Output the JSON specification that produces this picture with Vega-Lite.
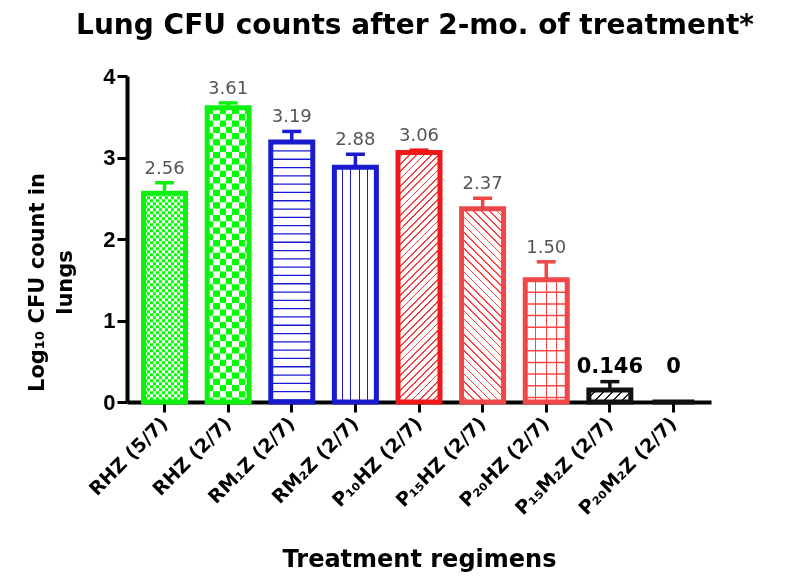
{
"$schema":"https://vega.github.io/schema/vega-lite/v6.json",
"width":584,"height":326,
"autosize":{"type":"none"},
"padding":{"left":127,"top":76,"right":79,"bottom":177},
"background":"#ffffff",
"config":{"view":{"stroke":null},"axis":{"grid":false}},
"title":{"text":"Lung CFU counts after 2-mo. of treatment*","font":"DejaVu Sans","fontSize":28,"fontWeight":"bold","color":"#000","anchor":"middle","frame":"group","offset":25,"dx":-4},
"data":{"values":[
{"code":"RHZ5","regimen":"RHZ (5/7)","grp":"RH","mean":2.56,"hi":2.69,"lab":"2.56"},
{"code":"RHZ2","regimen":"RHZ (2/7)","grp":"RH","mean":3.61,"hi":3.67,"lab":"3.61"},
{"code":"RM1Z","regimen":"RM₁Z (2/7)","grp":"RM","mean":3.19,"hi":3.32,"lab":"3.19"},
{"code":"RM2Z","regimen":"RM₂Z (2/7)","grp":"RM","mean":2.88,"hi":3.04,"lab":"2.88"},
{"code":"P10HZ","regimen":"P₁₀HZ (2/7)","grp":"P10","mean":3.06,"hi":3.09,"lab":"3.06"},
{"code":"P15HZ","regimen":"P₁₅HZ (2/7)","grp":"P","mean":2.37,"hi":2.50,"lab":"2.37"},
{"code":"P20HZ","regimen":"P₂₀HZ (2/7)","grp":"P","mean":1.50,"hi":1.72,"lab":"1.50"},
{"code":"P15M2Z","regimen":"P₁₅M₂Z (2/7)","grp":"PM","mean":0.146,"hi":0.25,"lab":"0.146"},
{"code":"P20M2Z","regimen":"P₂₀M₂Z (2/7)","grp":"PM","mean":0,"hi":0,"lab":"0"}
]},
"encoding":{
"x":{"field":"regimen","type":"nominal","sort":null,"scale":{"paddingInner":0.34,"paddingOuter":0.26},
 "axis":{"title":"Treatment regimens","titleFont":"DejaVu Sans","titleFontWeight":"bold","titleFontSize":24,"titleColor":"#000","titleY":164,"titleBaseline":"alphabetic",
 "labelAngle":-45,"labelAlign":"right","labelBaseline":"middle","labelFont":"DejaVu Sans","labelFontWeight":"bold","labelFontSize":19,"labelColor":"#000","labelPadding":8,
 "tickSize":10,"tickWidth":3,"tickColor":"#000","domainWidth":4,"domainColor":"#000"}},
"y":{"field":"mean","type":"quantitative","title":["Log₁₀ CFU count in","lungs"],"scale":{"domain":[0,4],"nice":false},
 "axis":{"titleFont":"DejaVu Sans","titleFontWeight":"bold","titleFontSize":21,"titleColor":"#000","titleX":-101,"titleY":206,"titleAlign":"center","titleBaseline":"top","titleLineHeight":28,
 "values":[0,1,2,3,4],"labelFont":"Liberation Sans","labelFontWeight":"bold","labelFontSize":22,"labelColor":"#000","labelPadding":2,
 "tickSize":10,"tickWidth":3,"tickColor":"#000","domainWidth":4,"domainColor":"#000"}}
},
"layer":[
{"transform":[{"filter":"datum.code==='RHZ5'"}],"mark":{"type":"bar","fill":{"gradient":"linear","x1":0,"y1":0,"x2":1,"y2":0,"stops":[
{"offset":0,"color":"#fff"},{"offset":0.0714,"color":"#fff"},{"offset":0.0714,"color":"#0f0"},{"offset":0.1429,"color":"#0f0"},{"offset":0.1429,"color":"#fff"},{"offset":0.2143,"color":"#fff"},{"offset":0.2143,"color":"#0f0"},{"offset":0.2857,"color":"#0f0"},{"offset":0.2857,"color":"#fff"},{"offset":0.3571,"color":"#fff"},{"offset":0.3571,"color":"#0f0"},{"offset":0.4286,"color":"#0f0"},{"offset":0.4286,"color":"#fff"},{"offset":0.5,"color":"#fff"},{"offset":0.5,"color":"#0f0"},{"offset":0.5714,"color":"#0f0"},{"offset":0.5714,"color":"#fff"},{"offset":0.6429,"color":"#fff"},{"offset":0.6429,"color":"#0f0"},{"offset":0.7143,"color":"#0f0"},{"offset":0.7143,"color":"#fff"},{"offset":0.7857,"color":"#fff"},{"offset":0.7857,"color":"#0f0"},{"offset":0.8571,"color":"#0f0"},{"offset":0.8571,"color":"#fff"},{"offset":0.9286,"color":"#fff"},{"offset":0.9286,"color":"#0f0"},{"offset":1,"color":"#0f0"}]}}},
{"transform":[{"filter":"datum.code==='RHZ5'"}],"mark":{"type":"rule","color":"#ff00ff","strokeWidth":42,"strokeDash":[3,3],"strokeCap":"butt","blend":"difference"},"encoding":{"y2":{"datum":0}}},
{"transform":[{"filter":"datum.code==='RHZ2'"}],"mark":{"type":"bar","fill":{"gradient":"linear","x1":0,"y1":0,"x2":1,"y2":0,"stops":[
{"offset":0,"color":"#fff"},{"offset":0.15,"color":"#fff"},{"offset":0.15,"color":"#0f0"},{"offset":0.3,"color":"#0f0"},{"offset":0.3,"color":"#fff"},{"offset":0.45,"color":"#fff"},{"offset":0.45,"color":"#0f0"},{"offset":0.6,"color":"#0f0"},{"offset":0.6,"color":"#fff"},{"offset":0.75,"color":"#fff"},{"offset":0.75,"color":"#0f0"},{"offset":0.9,"color":"#0f0"},{"offset":0.9,"color":"#fff"},{"offset":1,"color":"#fff"}]}}},
{"transform":[{"filter":"datum.code==='RHZ2'"}],"mark":{"type":"rule","color":"#ff00ff","strokeWidth":42,"strokeDash":[6.3,6.3],"strokeCap":"butt","blend":"difference"},"encoding":{"y2":{"datum":0}}},
{"transform":[{"filter":"datum.code==='RM1Z'"}],"mark":{"type":"rule","color":"#1a1ad0","strokeWidth":42,"strokeDash":[1.3,7],"strokeCap":"butt"},"encoding":{"y2":{"datum":0}}},
{"transform":[{"filter":"datum.code==='RM2Z'"}],"mark":{"type":"bar","fill":{"gradient":"linear","x1":0,"y1":0,"x2":1,"y2":0,"stops":[
{"offset":0,"color":"#fff"},{"offset":0.175,"color":"#fff"},{"offset":0.175,"color":"#1a1ad0"},{"offset":0.2,"color":"#1a1ad0"},{"offset":0.2,"color":"#fff"},{"offset":0.375,"color":"#fff"},{"offset":0.375,"color":"#1a1ad0"},{"offset":0.4,"color":"#1a1ad0"},{"offset":0.4,"color":"#fff"},{"offset":0.575,"color":"#fff"},{"offset":0.575,"color":"#1a1ad0"},{"offset":0.6,"color":"#1a1ad0"},{"offset":0.6,"color":"#fff"},{"offset":0.775,"color":"#fff"},{"offset":0.775,"color":"#1a1ad0"},{"offset":0.8,"color":"#1a1ad0"},{"offset":0.8,"color":"#fff"},{"offset":1,"color":"#fff"}]}}},
{"transform":[{"filter":"datum.code==='P10HZ'"}],"mark":{"type":"bar","fill":{"gradient":"linear","x1":0,"y1":0,"x2":0.1913,"y2":1.1362,"stops":[
{"offset":0,"color":"#fff"},
{"offset":0.019,"color":"#fff"},{"offset":0.019,"color":"#e44"},{"offset":0.025,"color":"#e44"},{"offset":0.025,"color":"#fff"},
{"offset":0.044,"color":"#fff"},{"offset":0.044,"color":"#e44"},{"offset":0.05,"color":"#e44"},{"offset":0.05,"color":"#fff"},
{"offset":0.069,"color":"#fff"},{"offset":0.069,"color":"#e44"},{"offset":0.075,"color":"#e44"},{"offset":0.075,"color":"#fff"},
{"offset":0.094,"color":"#fff"},{"offset":0.094,"color":"#e44"},{"offset":0.1,"color":"#e44"},{"offset":0.1,"color":"#fff"},
{"offset":0.119,"color":"#fff"},{"offset":0.119,"color":"#e44"},{"offset":0.125,"color":"#e44"},{"offset":0.125,"color":"#fff"},
{"offset":0.144,"color":"#fff"},{"offset":0.144,"color":"#e44"},{"offset":0.15,"color":"#e44"},{"offset":0.15,"color":"#fff"},
{"offset":0.169,"color":"#fff"},{"offset":0.169,"color":"#e44"},{"offset":0.175,"color":"#e44"},{"offset":0.175,"color":"#fff"},
{"offset":0.194,"color":"#fff"},{"offset":0.194,"color":"#e44"},{"offset":0.2,"color":"#e44"},{"offset":0.2,"color":"#fff"},
{"offset":0.219,"color":"#fff"},{"offset":0.219,"color":"#e44"},{"offset":0.225,"color":"#e44"},{"offset":0.225,"color":"#fff"},
{"offset":0.244,"color":"#fff"},{"offset":0.244,"color":"#e44"},{"offset":0.25,"color":"#e44"},{"offset":0.25,"color":"#fff"},
{"offset":0.269,"color":"#fff"},{"offset":0.269,"color":"#e44"},{"offset":0.275,"color":"#e44"},{"offset":0.275,"color":"#fff"},
{"offset":0.294,"color":"#fff"},{"offset":0.294,"color":"#e44"},{"offset":0.3,"color":"#e44"},{"offset":0.3,"color":"#fff"},
{"offset":0.319,"color":"#fff"},{"offset":0.319,"color":"#e44"},{"offset":0.325,"color":"#e44"},{"offset":0.325,"color":"#fff"},
{"offset":0.344,"color":"#fff"},{"offset":0.344,"color":"#e44"},{"offset":0.35,"color":"#e44"},{"offset":0.35,"color":"#fff"},
{"offset":0.369,"color":"#fff"},{"offset":0.369,"color":"#e44"},{"offset":0.375,"color":"#e44"},{"offset":0.375,"color":"#fff"},
{"offset":0.394,"color":"#fff"},{"offset":0.394,"color":"#e44"},{"offset":0.4,"color":"#e44"},{"offset":0.4,"color":"#fff"},
{"offset":0.419,"color":"#fff"},{"offset":0.419,"color":"#e44"},{"offset":0.425,"color":"#e44"},{"offset":0.425,"color":"#fff"},
{"offset":0.444,"color":"#fff"},{"offset":0.444,"color":"#e44"},{"offset":0.45,"color":"#e44"},{"offset":0.45,"color":"#fff"},
{"offset":0.469,"color":"#fff"},{"offset":0.469,"color":"#e44"},{"offset":0.475,"color":"#e44"},{"offset":0.475,"color":"#fff"},
{"offset":0.494,"color":"#fff"},{"offset":0.494,"color":"#e44"},{"offset":0.5,"color":"#e44"},{"offset":0.5,"color":"#fff"},
{"offset":0.519,"color":"#fff"},{"offset":0.519,"color":"#e44"},{"offset":0.525,"color":"#e44"},{"offset":0.525,"color":"#fff"},
{"offset":0.544,"color":"#fff"},{"offset":0.544,"color":"#e44"},{"offset":0.55,"color":"#e44"},{"offset":0.55,"color":"#fff"},
{"offset":0.569,"color":"#fff"},{"offset":0.569,"color":"#e44"},{"offset":0.575,"color":"#e44"},{"offset":0.575,"color":"#fff"},
{"offset":0.594,"color":"#fff"},{"offset":0.594,"color":"#e44"},{"offset":0.6,"color":"#e44"},{"offset":0.6,"color":"#fff"},
{"offset":0.619,"color":"#fff"},{"offset":0.619,"color":"#e44"},{"offset":0.625,"color":"#e44"},{"offset":0.625,"color":"#fff"},
{"offset":0.644,"color":"#fff"},{"offset":0.644,"color":"#e44"},{"offset":0.65,"color":"#e44"},{"offset":0.65,"color":"#fff"},
{"offset":0.669,"color":"#fff"},{"offset":0.669,"color":"#e44"},{"offset":0.675,"color":"#e44"},{"offset":0.675,"color":"#fff"},
{"offset":0.694,"color":"#fff"},{"offset":0.694,"color":"#e44"},{"offset":0.7,"color":"#e44"},{"offset":0.7,"color":"#fff"},
{"offset":0.719,"color":"#fff"},{"offset":0.719,"color":"#e44"},{"offset":0.725,"color":"#e44"},{"offset":0.725,"color":"#fff"},
{"offset":0.744,"color":"#fff"},{"offset":0.744,"color":"#e44"},{"offset":0.75,"color":"#e44"},{"offset":0.75,"color":"#fff"},
{"offset":0.769,"color":"#fff"},{"offset":0.769,"color":"#e44"},{"offset":0.775,"color":"#e44"},{"offset":0.775,"color":"#fff"},
{"offset":0.794,"color":"#fff"},{"offset":0.794,"color":"#e44"},{"offset":0.8,"color":"#e44"},{"offset":0.8,"color":"#fff"},
{"offset":0.819,"color":"#fff"},{"offset":0.819,"color":"#e44"},{"offset":0.825,"color":"#e44"},{"offset":0.825,"color":"#fff"},
{"offset":0.844,"color":"#fff"},{"offset":0.844,"color":"#e44"},{"offset":0.85,"color":"#e44"},{"offset":0.85,"color":"#fff"},
{"offset":0.869,"color":"#fff"},{"offset":0.869,"color":"#e44"},{"offset":0.875,"color":"#e44"},{"offset":0.875,"color":"#fff"},
{"offset":0.894,"color":"#fff"},{"offset":0.894,"color":"#e44"},{"offset":0.9,"color":"#e44"},{"offset":0.9,"color":"#fff"},
{"offset":0.919,"color":"#fff"},{"offset":0.919,"color":"#e44"},{"offset":0.925,"color":"#e44"},{"offset":0.925,"color":"#fff"},
{"offset":0.944,"color":"#fff"},{"offset":0.944,"color":"#e44"},{"offset":0.95,"color":"#e44"},{"offset":0.95,"color":"#fff"},
{"offset":0.969,"color":"#fff"},{"offset":0.969,"color":"#e44"},{"offset":0.975,"color":"#e44"},{"offset":0.975,"color":"#fff"},
{"offset":1,"color":"#fff"}]}}},
{"transform":[{"filter":"datum.code==='P15HZ'"}],"mark":{"type":"bar","fill":{"gradient":"linear","x1":0,"y1":1,"x2":0.2527,"y2":-0.1625,"stops":[
{"offset":0,"color":"#fff"},
{"offset":0.0263,"color":"#fff"},{"offset":0.0263,"color":"#f44"},{"offset":0.0333,"color":"#f44"},{"offset":0.0333,"color":"#fff"},
{"offset":0.0597,"color":"#fff"},{"offset":0.0597,"color":"#f44"},{"offset":0.0667,"color":"#f44"},{"offset":0.0667,"color":"#fff"},
{"offset":0.093,"color":"#fff"},{"offset":0.093,"color":"#f44"},{"offset":0.1,"color":"#f44"},{"offset":0.1,"color":"#fff"},
{"offset":0.1263,"color":"#fff"},{"offset":0.1263,"color":"#f44"},{"offset":0.1333,"color":"#f44"},{"offset":0.1333,"color":"#fff"},
{"offset":0.1597,"color":"#fff"},{"offset":0.1597,"color":"#f44"},{"offset":0.1667,"color":"#f44"},{"offset":0.1667,"color":"#fff"},
{"offset":0.193,"color":"#fff"},{"offset":0.193,"color":"#f44"},{"offset":0.2,"color":"#f44"},{"offset":0.2,"color":"#fff"},
{"offset":0.2263,"color":"#fff"},{"offset":0.2263,"color":"#f44"},{"offset":0.2333,"color":"#f44"},{"offset":0.2333,"color":"#fff"},
{"offset":0.2597,"color":"#fff"},{"offset":0.2597,"color":"#f44"},{"offset":0.2667,"color":"#f44"},{"offset":0.2667,"color":"#fff"},
{"offset":0.293,"color":"#fff"},{"offset":0.293,"color":"#f44"},{"offset":0.3,"color":"#f44"},{"offset":0.3,"color":"#fff"},
{"offset":0.3263,"color":"#fff"},{"offset":0.3263,"color":"#f44"},{"offset":0.3333,"color":"#f44"},{"offset":0.3333,"color":"#fff"},
{"offset":0.3597,"color":"#fff"},{"offset":0.3597,"color":"#f44"},{"offset":0.3667,"color":"#f44"},{"offset":0.3667,"color":"#fff"},
{"offset":0.393,"color":"#fff"},{"offset":0.393,"color":"#f44"},{"offset":0.4,"color":"#f44"},{"offset":0.4,"color":"#fff"},
{"offset":0.4263,"color":"#fff"},{"offset":0.4263,"color":"#f44"},{"offset":0.4333,"color":"#f44"},{"offset":0.4333,"color":"#fff"},
{"offset":0.4597,"color":"#fff"},{"offset":0.4597,"color":"#f44"},{"offset":0.4667,"color":"#f44"},{"offset":0.4667,"color":"#fff"},
{"offset":0.493,"color":"#fff"},{"offset":0.493,"color":"#f44"},{"offset":0.5,"color":"#f44"},{"offset":0.5,"color":"#fff"},
{"offset":0.5263,"color":"#fff"},{"offset":0.5263,"color":"#f44"},{"offset":0.5333,"color":"#f44"},{"offset":0.5333,"color":"#fff"},
{"offset":0.5597,"color":"#fff"},{"offset":0.5597,"color":"#f44"},{"offset":0.5667,"color":"#f44"},{"offset":0.5667,"color":"#fff"},
{"offset":0.593,"color":"#fff"},{"offset":0.593,"color":"#f44"},{"offset":0.6,"color":"#f44"},{"offset":0.6,"color":"#fff"},
{"offset":0.6263,"color":"#fff"},{"offset":0.6263,"color":"#f44"},{"offset":0.6333,"color":"#f44"},{"offset":0.6333,"color":"#fff"},
{"offset":0.6597,"color":"#fff"},{"offset":0.6597,"color":"#f44"},{"offset":0.6667,"color":"#f44"},{"offset":0.6667,"color":"#fff"},
{"offset":0.693,"color":"#fff"},{"offset":0.693,"color":"#f44"},{"offset":0.7,"color":"#f44"},{"offset":0.7,"color":"#fff"},
{"offset":0.7263,"color":"#fff"},{"offset":0.7263,"color":"#f44"},{"offset":0.7333,"color":"#f44"},{"offset":0.7333,"color":"#fff"},
{"offset":0.7597,"color":"#fff"},{"offset":0.7597,"color":"#f44"},{"offset":0.7667,"color":"#f44"},{"offset":0.7667,"color":"#fff"},
{"offset":0.793,"color":"#fff"},{"offset":0.793,"color":"#f44"},{"offset":0.8,"color":"#f44"},{"offset":0.8,"color":"#fff"},
{"offset":0.8263,"color":"#fff"},{"offset":0.8263,"color":"#f44"},{"offset":0.8333,"color":"#f44"},{"offset":0.8333,"color":"#fff"},
{"offset":0.8597,"color":"#fff"},{"offset":0.8597,"color":"#f44"},{"offset":0.8667,"color":"#f44"},{"offset":0.8667,"color":"#fff"},
{"offset":0.893,"color":"#fff"},{"offset":0.893,"color":"#f44"},{"offset":0.9,"color":"#f44"},{"offset":0.9,"color":"#fff"},
{"offset":0.9263,"color":"#fff"},{"offset":0.9263,"color":"#f44"},{"offset":0.9333,"color":"#f44"},{"offset":0.9333,"color":"#fff"},
{"offset":0.9597,"color":"#fff"},{"offset":0.9597,"color":"#f44"},{"offset":0.9667,"color":"#f44"},{"offset":0.9667,"color":"#fff"},
{"offset":1,"color":"#fff"}]}}},
{"transform":[{"filter":"datum.code==='P20HZ'"}],"mark":{"type":"bar","fill":{"gradient":"linear","x1":0,"y1":0,"x2":1,"y2":0,"stops":[
{"offset":0,"color":"#fff"},{"offset":0.235,"color":"#fff"},{"offset":0.235,"color":"#f44"},{"offset":0.265,"color":"#f44"},{"offset":0.265,"color":"#fff"},{"offset":0.485,"color":"#fff"},{"offset":0.485,"color":"#f44"},{"offset":0.515,"color":"#f44"},{"offset":0.515,"color":"#fff"},{"offset":0.735,"color":"#fff"},{"offset":0.735,"color":"#f44"},{"offset":0.765,"color":"#f44"},{"offset":0.765,"color":"#fff"},{"offset":1,"color":"#fff"}]}}},
{"transform":[{"filter":"datum.code==='P20HZ'"}],"mark":{"type":"rule","color":"#f44","strokeWidth":42,"strokeDash":[1.5,10.2],"strokeCap":"butt"},"encoding":{"y2":{"datum":0}}},
{"transform":[{"filter":"datum.code==='P15M2Z'"}],"mark":{"type":"bar","fill":{"gradient":"linear","x1":0,"y1":0,"x2":1.188,"y2":0.3366,"stops":[
{"offset":0,"color":"#fff"},
{"offset":0.1167,"color":"#fff"},{"offset":0.1167,"color":"#222"},{"offset":0.1667,"color":"#222"},{"offset":0.1667,"color":"#fff"},
{"offset":0.2833,"color":"#fff"},{"offset":0.2833,"color":"#222"},{"offset":0.3333,"color":"#222"},{"offset":0.3333,"color":"#fff"},
{"offset":0.45,"color":"#fff"},{"offset":0.45,"color":"#222"},{"offset":0.5,"color":"#222"},{"offset":0.5,"color":"#fff"},
{"offset":0.6167,"color":"#fff"},{"offset":0.6167,"color":"#222"},{"offset":0.6667,"color":"#222"},{"offset":0.6667,"color":"#fff"},
{"offset":0.7833,"color":"#fff"},{"offset":0.7833,"color":"#222"},{"offset":0.8333,"color":"#222"},{"offset":0.8333,"color":"#fff"},
{"offset":1,"color":"#fff"}]}}},
{"mark":{"type":"rule","strokeWidth":3.5},"encoding":{"y2":{"field":"hi"},"color":{"field":"grp","type":"nominal","scale":{"domain":["RH","RM","P10","P","PM"],"range":["#10f010","#1a1ad0","#f01818","#f04848","#111111"]},"legend":null}}},
{"transform":[{"filter":"datum.hi > datum.mean"}],"mark":{"type":"tick","size":19,"thickness":3.5,"opacity":1},"encoding":{"y":{"field":"hi","type":"quantitative","title":["Log₁₀ CFU count in","lungs"]},"color":{"field":"grp","type":"nominal","scale":{"domain":["RH","RM","P10","P","PM"],"range":["#10f010","#1a1ad0","#f01818","#f04848","#111111"]},"legend":null}}},
{"mark":{"type":"bar","fillOpacity":0,"strokeWidth":5},"encoding":{"stroke":{"field":"grp","type":"nominal","scale":{"domain":["RH","RM","P10","P","PM"],"range":["#10f010","#1a1ad0","#f01818","#f04848","#111111"]},"legend":null}}},
{"transform":[{"filter":"datum.mean >= 1"}],"mark":{"type":"text","font":"DejaVu Sans","fontSize":18,"color":"#555","baseline":"alphabetic","dy":-9},"encoding":{"y":{"field":"hi","type":"quantitative","title":["Log₁₀ CFU count in","lungs"]},"text":{"field":"lab"}}},
{"transform":[{"filter":"datum.code==='P15M2Z'"}],"mark":{"type":"text","font":"DejaVu Sans","fontWeight":"bold","fontSize":21,"color":"#000","baseline":"alphabetic","dy":-9},"encoding":{"y":{"field":"hi","type":"quantitative","title":["Log₁₀ CFU count in","lungs"]},"text":{"field":"lab"}}},
{"transform":[{"filter":"datum.code==='P20M2Z'"}],"mark":{"type":"text","font":"DejaVu Sans","fontWeight":"bold","fontSize":21,"color":"#000","baseline":"alphabetic","dy":-29},"encoding":{"y":{"field":"hi","type":"quantitative","title":["Log₁₀ CFU count in","lungs"]},"text":{"field":"lab"}}}
]
}
